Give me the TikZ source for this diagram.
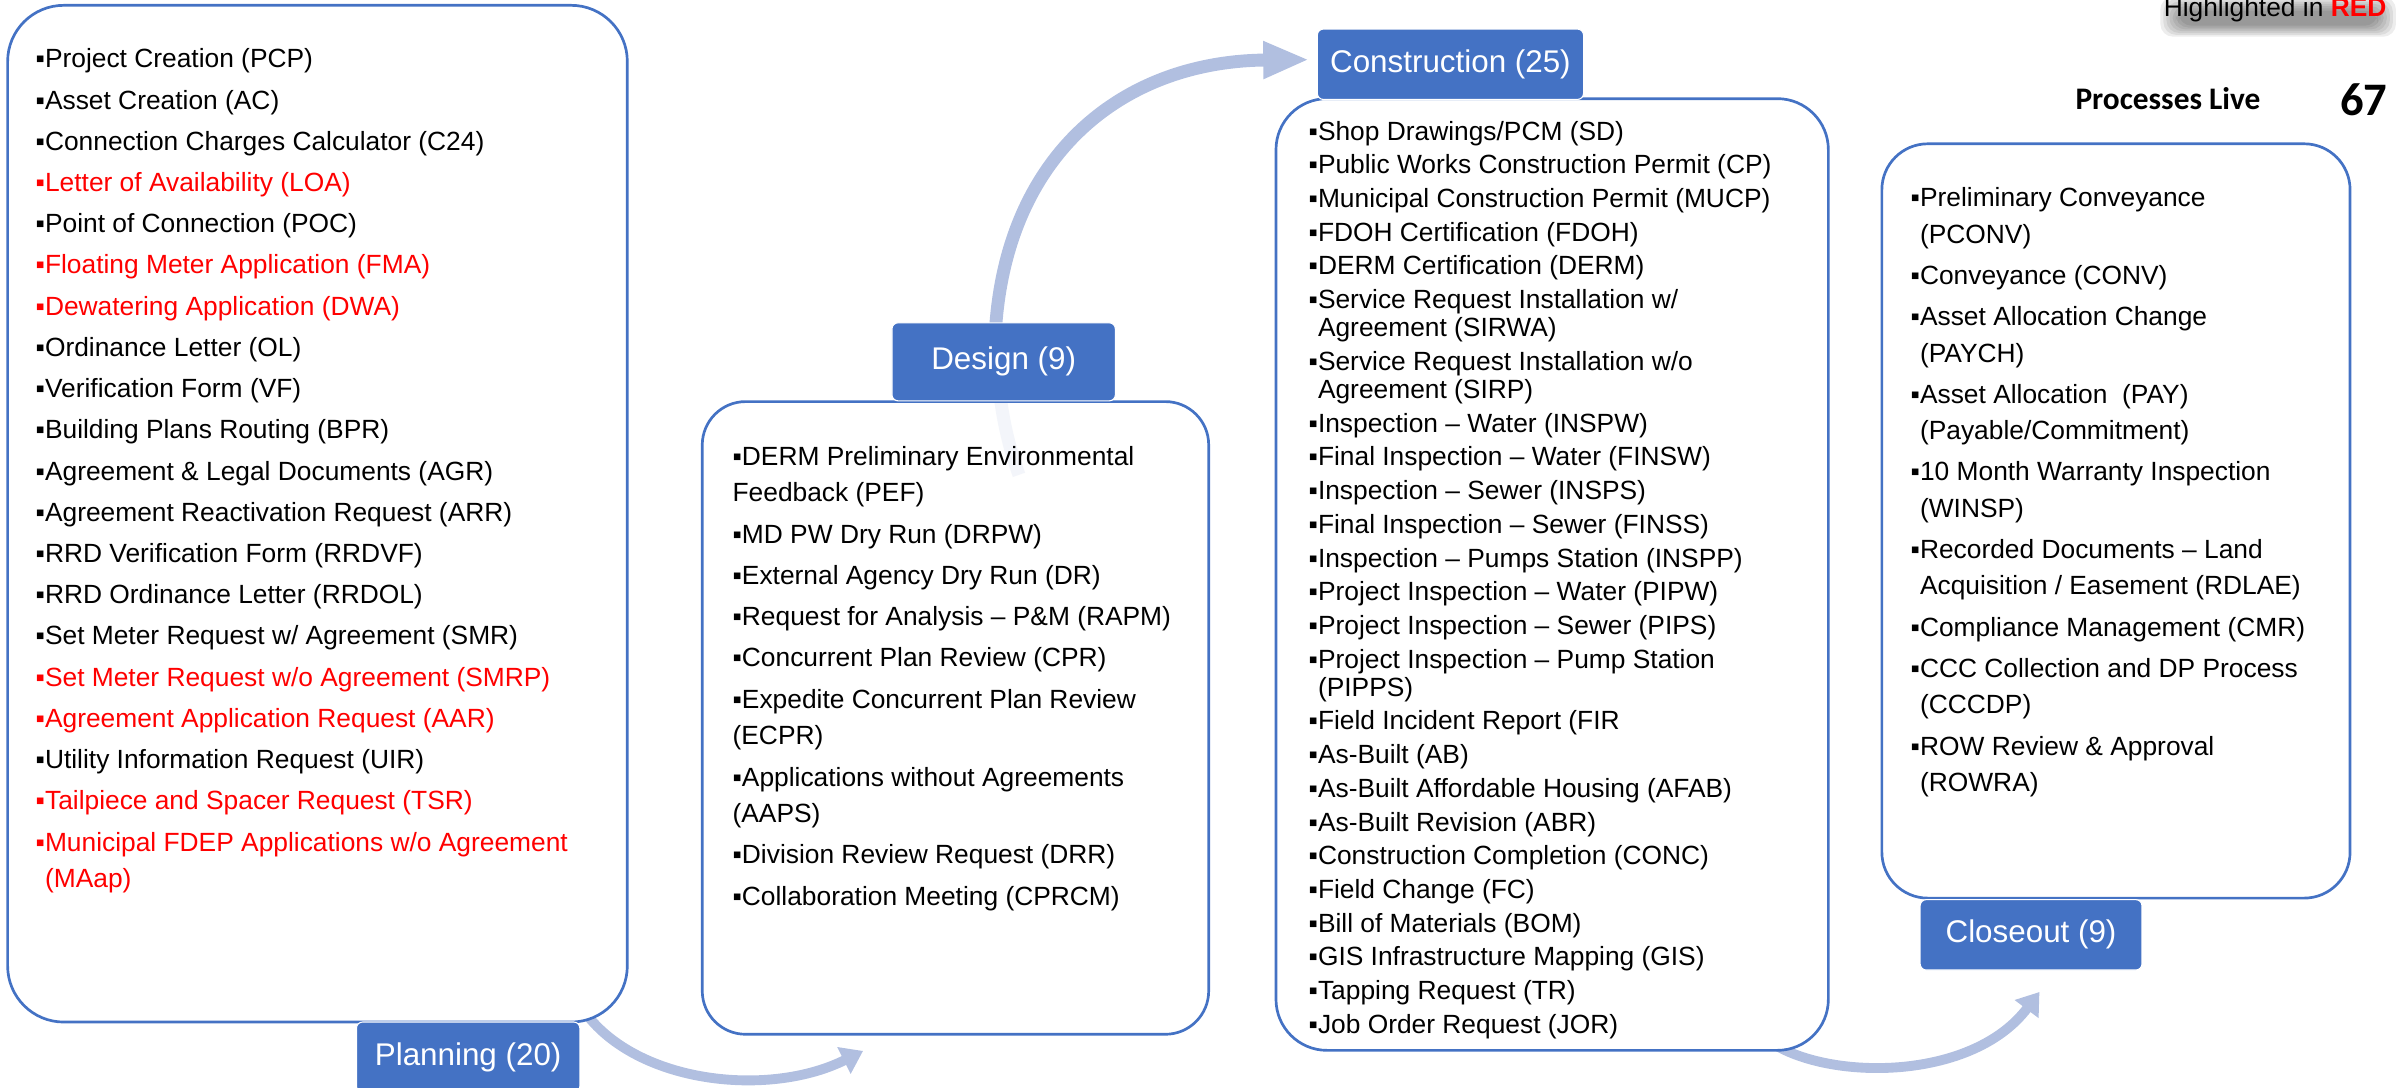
\documentclass[tikz,border=0pt]{standalone}
\usepackage{fontspec}
\setmainfont{Liberation Sans}
\newfontfamily\calibrifont{Carlito}
\usetikzlibrary{arrows.meta,backgrounds,calc,positioning}
\definecolor{StageBlue}{HTML}{4472C4}
\definecolor{FlowGrey}{HTML}{B1BFE0}
\definecolor{HotRed}{HTML}{FF0000}
\newcommand{\hot}[1]{\textcolor{HotRed}{#1}}

\begin{document}
\begin{tikzpicture}[x=0.03cm,y=-0.03cm,
      every node/.style={inner sep=0pt},
      listbox/.style={draw=StageBlue,line width=1.5pt,fill=white},
      stage/.style={fill=StageBlue,draw=white,line width=0.6pt,rounded corners=0.12cm,
                    text=white,font=\fontsize{17.5}{21}\selectfont},
      items/.style={anchor=north west,align=left,font=\fontsize{14.7}{20.5}\selectfont},
      flowarrow/.style={draw=FlowGrey,line width=5.5pt,-{Triangle[length=0.42cm,width=0.56cm]}}
    ]
      \useasboundingbox (0,0) rectangle (1568,711);

      % phase boxes
      \node[listbox,rounded corners=1.1cm,minimum width=12.15cm,minimum height=19.935cm]
        (planbox) at (207.5,335.75) {};
      \node[listbox,fill opacity=0.85,rounded corners=0.85cm,minimum width=9.93cm,minimum height=12.405cm]
        (desbox) at (624.5,469.25) {};
      \node[listbox,rounded corners=1.0cm,minimum width=10.83cm,minimum height=18.66cm]
        (conbox) at (1014.5,375.5) {};
      \node[listbox,rounded corners=0.9cm,minimum width=9.18cm,minimum height=14.79cm]
        (closebox) at (1383,340.5) {};

      % phase labels
      \node[stage,minimum width=4.38cm,minimum height=1.38cm] (planlabel) at (306,691) {Planning (20)};
      \node[stage,minimum width=4.38cm,minimum height=1.53cm] (deslabel) at (656,236.5) {Design (9)};
      \node[stage,minimum width=5.22cm,minimum height=1.38cm] (conlabel) at (948,42) {Construction (25)};
      \node[stage,minimum width=4.35cm,minimum height=1.38cm] (closelabel) at (1327.5,611) {Closeout (9)};

      \node[items] (planlist) at ($(planbox.north west)+(19,29)$) {%
        ▪Project Creation (PCP)\\[2.5pt]
        ▪Asset Creation (AC)\\[2.5pt]
        ▪Connection Charges Calculator (C24)\\[2.5pt]
        \hot{▪Letter of Availability (LOA)}\\[2.5pt]
        ▪Point of Connection (POC)\\[2.5pt]
        \hot{▪Floating Meter Application (FMA)}\\[2.5pt]
        \hot{▪Dewatering Application (DWA)}\\[2.5pt]
        ▪Ordinance Letter (OL)\\[2.5pt]
        ▪Verification Form (VF)\\[2.5pt]
        ▪Building Plans Routing (BPR)\\[2.5pt]
        ▪Agreement \& Legal Documents (AGR)\\[2.5pt]
        ▪Agreement Reactivation Request (ARR)\\[2.5pt]
        ▪RRD Verification Form (RRDVF)\\[2.5pt]
        ▪RRD Ordinance Letter (RRDOL)\\[2.5pt]
        ▪Set Meter Request w/ Agreement (SMR)\\[2.5pt]
        \hot{▪Set Meter Request w/o Agreement (SMRP)}\\[2.5pt]
        \hot{▪Agreement Application Request (AAR)}\\[2.5pt]
        ▪Utility Information Request (UIR)\\[2.5pt]
        \hot{▪Tailpiece and Spacer Request (TSR)}\\[2.5pt]
        \hot{▪Municipal FDEP Applications w/o Agreement}\\
        \hot{\phantom{▪}(MAap)}};

      \node[items] (deslist) at ($(desbox.north west)+(20.5,29.7)$) {%
        ▪DERM Preliminary Environmental\\
        Feedback (PEF)\\[2.5pt]
        ▪MD PW Dry Run (DRPW)\\[2.5pt]
        ▪External Agency Dry Run (DR)\\[2.5pt]
        ▪Request for Analysis – P\&M (RAPM)\\[2.5pt]
        ▪Concurrent Plan Review (CPR)\\[2.5pt]
        ▪Expedite Concurrent Plan Review\\
        (ECPR)\\[2.5pt]
        ▪Applications without Agreements\\
        (AAPS)\\[2.5pt]
        ▪Division Review Request (DRR)\\[2.5pt]
        ▪Collaboration Meeting (CPRCM)};

      \node[items,font=\fontsize{14.7}{15.7}\selectfont] (conlist) at ($(conbox.north west)+(22,15.2)$) {%
        ▪Shop Drawings/PCM (SD)\\[3.1pt]
        ▪Public Works Construction Permit (CP)\\[3.1pt]
        ▪Municipal Construction Permit (MUCP)\\[3.1pt]
        ▪FDOH Certification (FDOH)\\[3.1pt]
        ▪DERM Certification (DERM)\\[3.1pt]
        ▪Service Request Installation w/\\
        \phantom{▪}Agreement (SIRWA)\\[3.1pt]
        ▪Service Request Installation w/o\\
        \phantom{▪}Agreement (SIRP)\\[3.1pt]
        ▪Inspection – Water (INSPW)\\[3.1pt]
        ▪Final Inspection – Water (FINSW)\\[3.1pt]
        ▪Inspection – Sewer (INSPS)\\[3.1pt]
        ▪Final Inspection – Sewer (FINSS)\\[3.1pt]
        ▪Inspection – Pumps Station (INSPP)\\[3.1pt]
        ▪Project Inspection – Water (PIPW)\\[3.1pt]
        ▪Project Inspection – Sewer (PIPS)\\[3.1pt]
        ▪Project Inspection – Pump Station\\
        \phantom{▪}(PIPPS)\\[3.1pt]
        ▪Field Incident Report (FIR\\[3.1pt]
        ▪As-Built (AB)\\[3.1pt]
        ▪As-Built Affordable Housing (AFAB)\\[3.1pt]
        ▪As-Built Revision (ABR)\\[3.1pt]
        ▪Construction Completion (CONC)\\[3.1pt]
        ▪Field Change (FC)\\[3.1pt]
        ▪Bill of Materials (BOM)\\[3.1pt]
        ▪GIS Infrastructure Mapping (GIS)\\[3.1pt]
        ▪Tapping Request (TR)\\[3.1pt]
        ▪Job Order Request (JOR)};

      \node[items,font=\fontsize{14.7}{20.3}\selectfont] (closelist) at ($(closebox.north west)+(19.5,29.4)$) {%
        ▪Preliminary Conveyance\\
        \phantom{▪}(PCONV)\\[2.7pt]
        ▪Conveyance (CONV)\\[2.7pt]
        ▪Asset Allocation Change\\
        \phantom{▪}(PAYCH)\\[2.7pt]
        ▪Asset Allocation \ (PAY)\\
        \phantom{▪}(Payable/Commitment)\\[2.7pt]
        ▪10 Month Warranty Inspection\\
        \phantom{▪}(WINSP)\\[2.7pt]
        ▪Recorded Documents – Land\\
        \phantom{▪}Acquisition / Easement (RDLAE)\\[2.7pt]
        ▪Compliance Management (CMR)\\[2.7pt]
        ▪CCC Collection and DP Process\\
        \phantom{▪}(CCCDP)\\[2.7pt]
        ▪ROW Review \& Approval\\
        \phantom{▪}(ROWRA)};

      % legend and counter
      \foreach \k in {0,...,6}
        \fill[black,opacity=0.07,rounded corners=0.25cm]
          (1412+2*\k,-2+1.5*\k) rectangle (1566-2*\k,24-1.2*\k);
      \node[anchor=base east,font=\fontsize{14.7}{17}\selectfont] (hilite) at (1560,10.5)
        {Highlighted in \textcolor{HotRed}{\textbf{RED}}};
      \node[anchor=base,font=\calibrifont\bfseries\fontsize{17.5}{21}\selectfont] (livetag)
        at (1417,71.9) {Processes Live};
      \node[anchor=base,font=\calibrifont\bfseries\fontsize{26}{30}\selectfont] (livecount)
        at (1545,75.2) {67};

      \begin{scope}[on background layer]
        \draw[flowarrow]
          ($(planbox.south east)+(-26,-4)$) .. controls +(36,44) and +(-60,30) ..
          ($(desbox.south west)+(106,10)$);
        \draw[flowarrow,line width=7.2pt,-{Triangle[length=0.9cm,width=0.68cm]}]
          ($(deslabel.south)+(10,48)$) .. controls +(-11,-30) and +(0,39) ..
          ($(deslabel.north)+(-5,0)$) .. controls +(9,-111) and +(-121,1) ..
          ($(conlabel.west)+(-5,-3)$);
        \draw[flowarrow]
          ($(conbox.south east)+(-35,-4)$) .. controls +(40,23) and +(-43,57) ..
          ($(closelabel.south)+(5.5,14)$);
      \end{scope}
    \end{tikzpicture}
\end{document}
